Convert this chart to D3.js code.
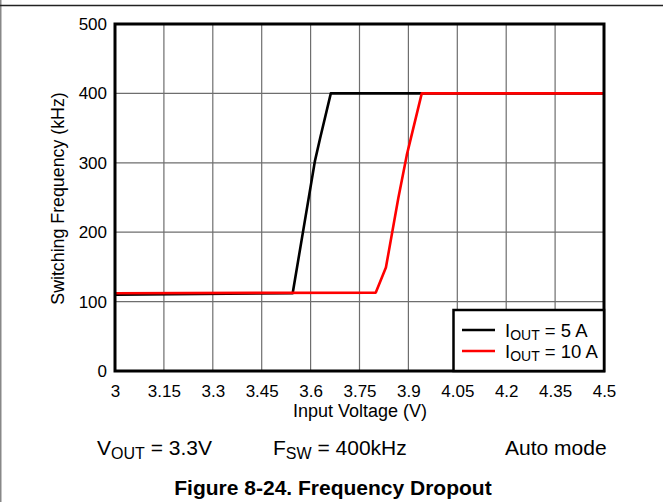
<!DOCTYPE html>
<html>
<head>
<meta charset="utf-8">
<script src="https://cdn.jsdelivr.net/npm/d3@7"></script>
<style>
  html, body { margin: 0; padding: 0; background: #fff; }
  svg { display: block; font-family: "Liberation Sans", Arial, sans-serif; }
</style>
</head>
<body>
<svg id="chart" width="663" height="502"></svg>
<script>
// ---- data ----
const xTicks = [3, 3.15, 3.3, 3.45, 3.6, 3.75, 3.9, 4.05, 4.2, 4.35, 4.5];
const xTickLabels = ["3", "3.15", "3.3", "3.45", "3.6", "3.75", "3.9", "4.05", "4.2", "4.35", "4.5"];
const yTicks = [0, 100, 200, 300, 400, 500];
const yTickLabels = ["0", "100", "200", "300", "400", "500"];

const vin5A = [3, 3.545, 3.613, 3.629, 3.662, 4.5];
const fsw5A = [110, 112, 302, 335, 400, 400];
const vin10A = [3, 3.80, 3.831, 3.869, 3.895, 3.941, 4.5];
const fsw10A = [112, 113, 149, 249, 311, 400, 400];

const seriesNames = ["5 A", "10 A"];
const seriesColors = ["#000000", "#ff0000"];

// ---- layout ----
const svg = d3.select("#chart");
const pL = 115, pR = 604, pT = 24, pB = 371;
const FONT = "Liberation Sans, Arial, sans-serif";

const x = d3.scaleLinear().domain([3, 4.5]).range([pL, pR]);
const y = d3.scaleLinear().domain([0, 500]).range([pB, pT]);

// outer frame lines
svg.append("line").attr("x1", 0.5).attr("x2", 0.5).attr("y1", 0).attr("y2", 502)
  .attr("stroke", "#888").attr("stroke-width", 2);
svg.append("line").attr("x1", 0).attr("x2", 663).attr("y1", 5.5).attr("y2", 5.5)
  .attr("stroke", "#222").attr("stroke-width", 1.5);

// grid
const grid = svg.append("g");
grid.selectAll("line.v").data(xTicks.slice(1, -1)).enter().append("line")
  .attr("x1", d => x(d)).attr("x2", d => x(d)).attr("y1", pT).attr("y2", pB)
  .attr("stroke", "#6e6e6e").attr("stroke-width", 1.2);
grid.selectAll("line.h").data(yTicks.slice(1, -1)).enter().append("line")
  .attr("x1", pL).attr("x2", pR).attr("y1", d => y(d)).attr("y2", d => y(d))
  .attr("stroke", "#6e6e6e").attr("stroke-width", 1.2);

// axes labels via d3 axes
const xAxis = d3.axisBottom(x).tickValues(xTicks).tickFormat((d, i) => xTickLabels[i]).tickSize(0).tickPadding(14);
const gx = svg.append("g").attr("transform", `translate(0,${pB})`).call(xAxis);
gx.select(".domain").remove();
gx.attr("font-size", 17).attr("font-family", FONT);
gx.selectAll("text").attr("fill", "#000");

const yAxis = d3.axisLeft(y).tickValues(yTicks).tickFormat((d, i) => yTickLabels[i]).tickSize(0).tickPadding(8);
const gy = svg.append("g").attr("transform", `translate(${pL},0)`).call(yAxis);
gy.select(".domain").remove();
gy.attr("font-size", 17).attr("font-family", FONT);
gy.selectAll("text").attr("fill", "#000");

// lines
const line = d3.line().x(d => x(d[0])).y(d => y(d[1]));
const data5 = vin5A.map((v, i) => [v, fsw5A[i]]);
const data10 = vin10A.map((v, i) => [v, fsw10A[i]]);
[data5, data10].forEach((d, i) => {
  svg.append("path").datum(d).attr("d", line)
    .attr("fill", "none").attr("stroke", seriesColors[i]).attr("stroke-width", 2.6)
    .attr("stroke-linejoin", "round");
});

// plot border
svg.append("rect").attr("x", pL).attr("y", pT).attr("width", pR - pL).attr("height", pB - pT)
  .attr("fill", "none").attr("stroke", "#000").attr("stroke-width", 3);

// legend
const lg = svg.append("g");
lg.append("rect").attr("x", 453.5).attr("y", 310).attr("width", pR - 453.5).attr("height", pB - 310)
  .attr("fill", "#fff").attr("stroke", "#000").attr("stroke-width", 2.5);
seriesNames.forEach((name, i) => {
  const ly = 330 + i * 21;
  lg.append("line").attr("x1", 462).attr("x2", 495).attr("y1", ly).attr("y2", ly)
    .attr("stroke", seriesColors[i]).attr("stroke-width", 2.6);
  const t = lg.append("text").attr("x", 505).attr("y", ly + 7).attr("font-size", 18.5).attr("fill", "#000");
  t.append("tspan").text("I");
  t.append("tspan").attr("font-size", 14).attr("dy", 3).text("OUT");
  t.append("tspan").attr("dy", -3).text(" = " + name);
});

// axis titles
svg.append("text").attr("x", 360).attr("y", 417).attr("text-anchor", "middle")
  .attr("font-size", 18).text("Input Voltage (V)");
svg.append("text").attr("transform", `translate(64,198.5) rotate(-90)`)
  .attr("text-anchor", "middle").attr("font-size", 17.8).text("Switching Frequency (kHz)");

// conditions
function subText(xp, main, sub, rest) {
  const t = svg.append("text").attr("x", xp).attr("y", 455).attr("font-size", 21).attr("fill", "#000");
  t.append("tspan").text(main);
  t.append("tspan").attr("font-size", 16).attr("dy", 4).text(sub);
  t.append("tspan").attr("dy", -4).text(rest);
}
subText(97, "V", "OUT", " = 3.3V");
subText(273, "F", "SW", " = 400kHz");
svg.append("text").attr("x", 505).attr("y", 455).attr("font-size", 21).text("Auto mode");

// caption
svg.append("text").attr("x", 333).attr("y", 495).attr("text-anchor", "middle")
  .attr("font-size", 21).attr("font-weight", "bold").text("Figure 8-24. Frequency Dropout");
</script>
</body>
</html>
